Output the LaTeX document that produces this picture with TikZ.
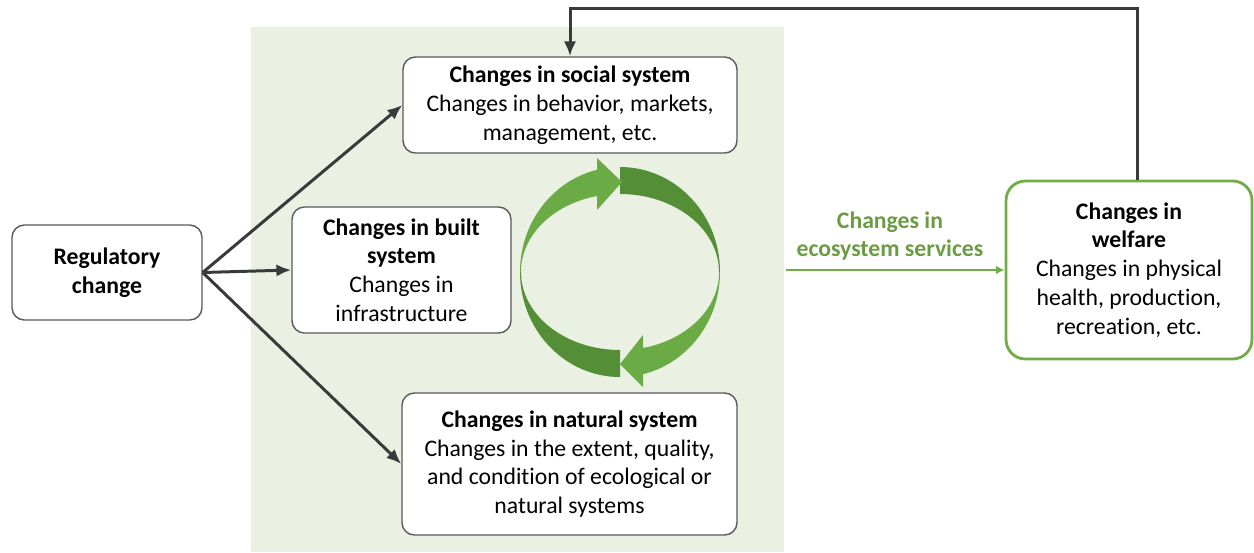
\documentclass[tikz,border=0pt]{standalone}
\usepackage{fontspec}
\setmainfont[Ligatures=NoCommon]{Carlito}
\usepackage{tikz}
\usetikzlibrary{shapes,arrows.meta,positioning}

\definecolor{panelGreen}{HTML}{EAF1E3}
\definecolor{boxGray}{HTML}{595959}
\definecolor{arrowGray}{HTML}{3A3A3A}
\definecolor{esGreen}{HTML}{70AD47}
\definecolor{esText}{HTML}{6B9B42}
\definecolor{ringLight}{HTML}{6AAB45}
\definecolor{ringDark}{HTML}{548E36}

\begin{document}
\begin{tikzpicture}[
    x=0.02cm, y=-0.02cm,
    thick,
    box/.style={rectangle, rounded corners=7pt, draw=boxGray, fill=white, line width=0.8pt, align=center, font=\fontsize{13.5}{16.4}\selectfont, inner sep=2pt},
    arrow/.style={line width=1.7pt, draw=arrowGray, -{Latex[length=8.5pt, width=7pt]}},
    esarrow/.style={line width=1.6pt, draw=esGreen, -{Latex[length=5pt, width=5pt]}}
]
\useasboundingbox (0,0) rectangle (1254,552);

% Panel
\fill[panelGreen] (251,27) rectangle (784,552);

% Boxes
\node[box, minimum width=3.8cm, minimum height=1.9cm] (reg) at (107,272.5) {\textbf{Regulatory}\\\textbf{change}};
\node[box, minimum width=6.68cm, minimum height=1.92cm] (social) at (570,105) {\textbf{Changes in social system}\\Changes in behavior, markets,\\management, etc.};
\node[box, minimum width=4.38cm, minimum height=2.52cm] (built) at (401.5,270) {\textbf{Changes in built}\\\textbf{system}\\Changes in\\infrastructure};
\node[box, minimum width=6.7cm, minimum height=2.84cm] (natural) at (569.5,464) {\textbf{Changes in natural system}\\Changes in the extent, quality,\\and condition of ecological or\\natural systems};
\node[box, draw=esGreen, line width=1.6pt, rounded corners=11pt, minimum width=4.92cm, minimum height=3.56cm] (welfare) at (1129,270) {\textbf{Changes in}\\\textbf{welfare}\\Changes in physical\\health, production,\\recreation, etc.};
\node[align=center, text=esText, font=\fontsize{13.5}{16.4}\selectfont\bfseries] (esLabel) at (890,236) {Changes in\\ecosystem services};
\coordinate (esStart) at (786,270);

% Cycle
\fill[ringDark] (620,272) ++(90:100 and 105) arc[start angle=90, end angle=180, x radius=100, y radius=105]
    -- (521,272) arc[start angle=180, end angle=90, x radius=99, y radius=78] -- cycle;
\fill[ringDark] (620,272) ++(270:100 and 105) arc[start angle=270, end angle=360, x radius=100, y radius=105]
    -- (719,272) arc[start angle=360, end angle=270, x radius=99, y radius=78] -- cycle;
\fill[ringLight] (520,272) arc[start angle=180, end angle=256.7, x radius=100, y radius=105]
    -- (597,158) -- (622,182) -- (597,210) -- (597,196) arc[start angle=256.6, end angle=180, x radius=99, y radius=78] -- cycle;
\fill[ringLight] (720,272) arc[start angle=0, end angle=76.7, x radius=100, y radius=105]
    -- (643,387) -- (620,364) -- (643,335) -- (643,348) arc[start angle=76.6, end angle=0, x radius=99, y radius=78] -- cycle;

% Arrows
\draw[arrow] (reg.east) -- (social.west);
\draw[arrow] (reg.east) -- (built.west);
\draw[arrow] (reg.east) -- (natural.west);
\draw[esarrow] (esStart) -- (welfare.west);
\draw[arrow] ([xshift=0.16cm]welfare.north) -- ++(0,-171) -| (social.north);
\end{tikzpicture}
\end{document}
